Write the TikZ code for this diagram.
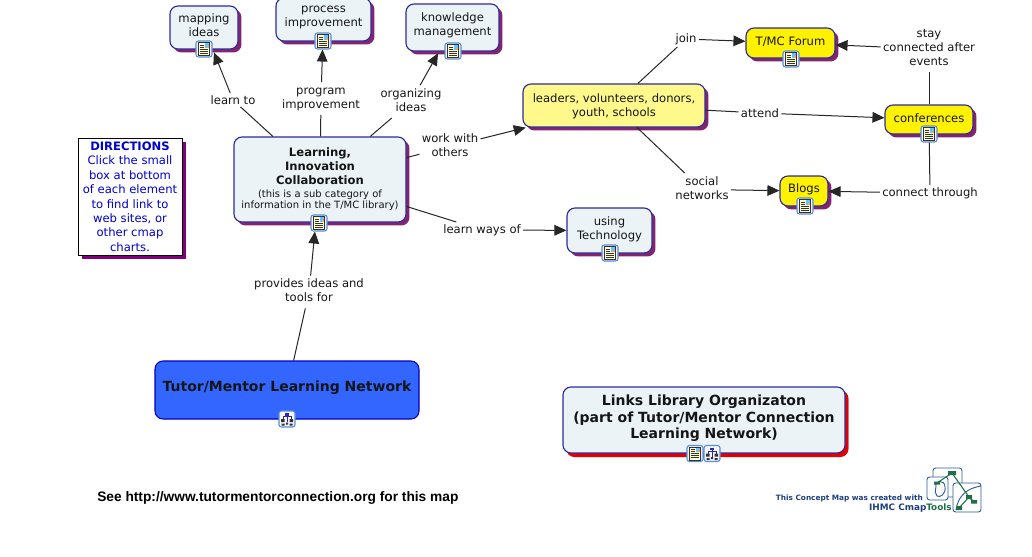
\documentclass[tikz,border=0pt]{standalone}
\usepackage{fontspec}
\setmainfont{DejaVu Sans}
\newfontfamily\arialfont{Liberation Sans}
\usetikzlibrary{shadows,arrows.meta}
\definecolor{paleblue}{HTML}{EBF3F7}
\definecolor{navy}{HTML}{2A2A9C}
\definecolor{plum}{HTML}{85246E}
\definecolor{dirshadow}{HTML}{800080}
\definecolor{labelink}{HTML}{151515}
\definecolor{iconblue}{HTML}{5B8FD0}
\definecolor{logoblue}{HTML}{2F5D94}
\definecolor{logonavy}{HTML}{1B3F80}
\definecolor{logogreen}{HTML}{1F7048}
\newcommand\stk[2]{\raisebox{#1}{\begin{tabular}{@{}c@{}}#2\end{tabular}}}
\newcommand\ctr[2]{\raisebox{\dimexpr#1-3.3pt\relax}[0pt][0pt]{\begin{tabular}{@{}c@{}}#2\end{tabular}}}
\newcommand\fsz[2]{\fontsize{#1}{#2}\selectfont}
\tikzset{
  x=0.75pt,y=-0.75pt,
  sz/.style 2 args={minimum width=#1*0.75pt,minimum height=#2*0.75pt},
  concept/.style={draw=navy,line width=0.85pt,rounded corners=6pt,inner sep=0pt,fill=paleblue,
    text=labelink,font=\fsz{8.7}{10.5},copy shadow={shadow xshift=2.6pt,shadow yshift=-2.6pt,draw=none,fill=plum}},
  yellowc/.style={concept,fill=yellow},
  paleyc/.style={concept,fill=yellow!45},
  linklabel/.style={inner sep=1.6pt,text=labelink,font=\fsz{8.7}{10.5}},
  conn/.style={draw=black!85,line width=0.75pt},
  arr/.style={conn,-{Triangle[length=9pt,width=8pt]}},
  docicon/.pic={
    \path[draw=iconblue,fill=blue!6,line width=0.8pt,rounded corners=1.8pt] (-8,-8) rectangle (8,8);
    \path[draw=black!80,fill=yellow!18,line width=0.5pt] (-5.5,-6.5) rectangle (5.5,6.5);
    \foreach \yy in {-4,-2,0,2,4}{\draw[black!80,line width=0.4pt] (-4,\yy) -- (\ifnum\yy<0 0\else 4\fi,\yy);}
    \path[fill=blue!40!cyan!60] (0.8,-6) rectangle (5,-1.2);
    \path[fill=orange!70] (2.5,-3.5) rectangle (5,-1.2);
  },
  mapicon/.pic={
    \path[draw=iconblue,fill=blue!4,line width=0.8pt,rounded corners=1.8pt] (-8,-8) rectangle (8,8);
    \draw[navy,line width=0.5pt] (-4,0) -- (-4,-2.5) -- (4,-2.5) -- (4,0) (0,-4) -- (0,3);
    \path[fill=navy] (-2,-6) rectangle (2,-3.5);
    \path[fill=black!80] (-6,0) rectangle (-2.5,3) (2.5,0) rectangle (6,3);
    \path[fill=black!80] (-5.5,4.5) rectangle (-2.5,6.5) (2.5,4.5) rectangle (5.5,6.5) (-1.2,3.5) rectangle (1.2,5.5);
  },
  logobox/.style={draw=logoblue,line width=0.7pt,rounded corners=2pt,fill=white},
  logonode/.style={fill=logogreen},
}
\begin{document}
\begin{tikzpicture}
\useasboundingbox (0,0) rectangle (1032,557);
% concepts
\node[concept,sz={68}{43}] (mapping) at (204,27.5) {\ctr{1.5pt}{mapping\\ideas}};
\node[concept,sz={95}{43}] (process) at (323.5,19.5) {\ctr{3.4pt}{process\\improvement}};
\node[concept,sz={93}{47}] (knowledge) at (452.5,27.5) {\ctr{2.4pt}{knowledge\\management}};
\node[concept,sz={172}{85}] (learning) at (320,179.5) {\ctr{0.7pt}{\fsz{8.7}{10.3}\bfseries Learning,\\\bfseries Innovation\\\bfseries Collaboration\\[-0.6pt]\fsz{7.5}{9.2}(this is a sub category of\\[-2.2pt]\fsz{7.5}{9.2}information in the T/MC library)}};
\node[paleyc,sz={182}{43}] (leaders) at (614,105.5) {\ctr{0.4pt}{leaders, volunteers, donors,\\youth, schools}};
\node[yellowc,sz={89}{30}] (forum) at (790.5,43) {\ctr{1.5pt}{T/MC Forum}};
\node[yellowc,sz={88}{29}] (conf) at (929,119.5) {\ctr{1.1pt}{conferences}};
\node[yellowc,sz={48}{30}] (blogs) at (804,191) {\ctr{2.2pt}{Blogs}};
\node[concept,sz={85}{45}] (tech) at (609.5,230.5) {\ctr{1.9pt}{using\\Technology}};
\node[draw=black,line width=0.65pt,fill=white,inner sep=0pt,sz={104}{117},text=blue!80!black,font=\fsz{8.7}{10.85},
  copy shadow={shadow xshift=3pt,shadow yshift=-3pt,draw=none,fill=dirshadow}] (dir) at (130,196.5)
  {\ctr{0pt}{\bfseries DIRECTIONS\\Click the small\\box at bottom\\of each element\\to find link to\\web sites, or\\other cmap\\charts.}};
\node[draw=blue!75!black,line width=0.8pt,rounded corners=6pt,fill={rgb,255:red,51;green,102;blue,255},sz={264}{58},inner sep=0pt,text=labelink,font=\fsz{10.5}{12}\bfseries] (tutor) at (287,390) {\ctr{1.5pt}{Tutor/Mentor Learning Network}};
\node[concept,sz={282}{66},font=\fsz{10.5}{12.4}\bfseries,copy shadow={shadow xshift=2.5pt,shadow yshift=-3pt,draw=none,fill=red!90!black}] (links) at (704,420) {\ctr{1.5pt}{Links Library Organizaton\\(part of Tutor/Mentor Connection\\Learning Network)}};
% linking phrases
\node[linklabel] (lt) at (233,100) {learn to};
\node[linklabel] (pi) at (321,98.5) {\stk{0pt}{program\\improvement}};
\node[linklabel] (oi) at (411,101.5) {\stk{0pt}{organizing\\ideas}};
\node[linklabel] (ww) at (450,146.5) {\stk{0pt}{work with\\others}};
\node[linklabel] (lw) at (482,230) {learn ways of};
\node[linklabel] (pt) at (309,292) {\stk{0pt}{provides ideas and\\tools for}};
\node[linklabel] (jn) at (686,39) {join};
\node[linklabel] (at) at (760,113) {attend};
\node[linklabel] (sn) at (702,189.5) {\stk{0pt}{social\\networks}};
\node[linklabel] (st) at (929,49) {\stk{0pt}{stay\\connected after\\events}};
\node[linklabel] (ct) at (930,193) {connect through};
% connectors
\draw[conn] (learning) -- (lt);
\draw[arr,shorten >=3*0.75pt] (lt) -- (mapping);
\draw[conn] (learning) -- (pi);
\draw[arr,shorten >=8*0.75pt] (pi) -- (process);
\draw[conn] (learning) -- (oi);
\draw[arr,shorten >=2*0.75pt] (oi) -- (knowledge);
\draw[conn] (learning) -- (ww);
\draw[arr] (ww) -- (leaders);
\draw[conn] (learning) -- (lw);
\draw[arr] (lw) -- (tech);
\draw[conn] (tutor) -- (pt);
\draw[arr,shorten >=9*0.75pt] (pt) -- (learning);
\draw[conn] (leaders) -- (jn);
\draw[arr] (jn) -- (forum);
\draw[conn] (leaders) -- (at);
\draw[arr] (at) -- (conf);
\draw[conn] (leaders) -- (sn);
\draw[arr] (sn) -- (blogs);
\draw[conn] (conf) -- (st);
\draw[arr] (st) -- (forum);
\draw[conn] (conf) -- (ct);
\draw[arr] (ct) -- (blogs);
% icons
\pic at (204,49) {docicon};
\pic at (323,41) {docicon};
\pic at (453,51) {docicon};
\pic at (319,223) {docicon};
\pic at (791,59) {docicon};
\pic at (929,134) {docicon};
\pic at (805,206) {docicon};
\pic at (610,253) {docicon};
\pic at (287,419) {mapicon};
\pic at (695,453.5) {docicon};
\pic at (712,453.5) {mapicon};
% footer
\node[anchor=west,inner sep=0pt,font=\arialfont\fontsize{10.3}{12}\selectfont\bfseries] (see) at (97,498) {See http://www.tutormentorconnection.org for this map};
\node[anchor=east,inner sep=0pt,text=logonavy,font=\fsz{5.5}{7}\bfseries] (made) at (923,498) {This Concept Map was created with};
\node[anchor=east,inner sep=0pt,text=logonavy,font=\fsz{6.65}{8}\bfseries] (ihmc) at (952,508) {IHMC Cmap\textcolor{logogreen}{Tools}};
% logo
\path[logobox] (933,468) rectangle (962,497);
\path[logobox] (953,483) rectangle (981,512);
\path[logobox] (927,477) rectangle (948,500);
\draw[logoblue,line width=0.7pt] (936,487) .. controls (934,480) and (945,479) .. (945,487) .. controls (946,494) and (940,498) .. (937,496) .. controls (935,494) and (935,491) .. (936,487);
\draw[logoblue,line width=0.7pt] (956,510) .. controls (958,495) and (968,488) .. (981,486);
\draw[logogreen,line width=0.8pt] (937,483) -- (952,473) -- (969,497) -- (974,502) (969,497) -- (959,508);
\path[logonode] (948,471) rectangle (956,475) (934,481.5) rectangle (940,484.5) (966,495) rectangle (972,499) (971,500) rectangle (977,503.5) (956,506) rectangle (962,510);
\end{tikzpicture}
\end{document}
